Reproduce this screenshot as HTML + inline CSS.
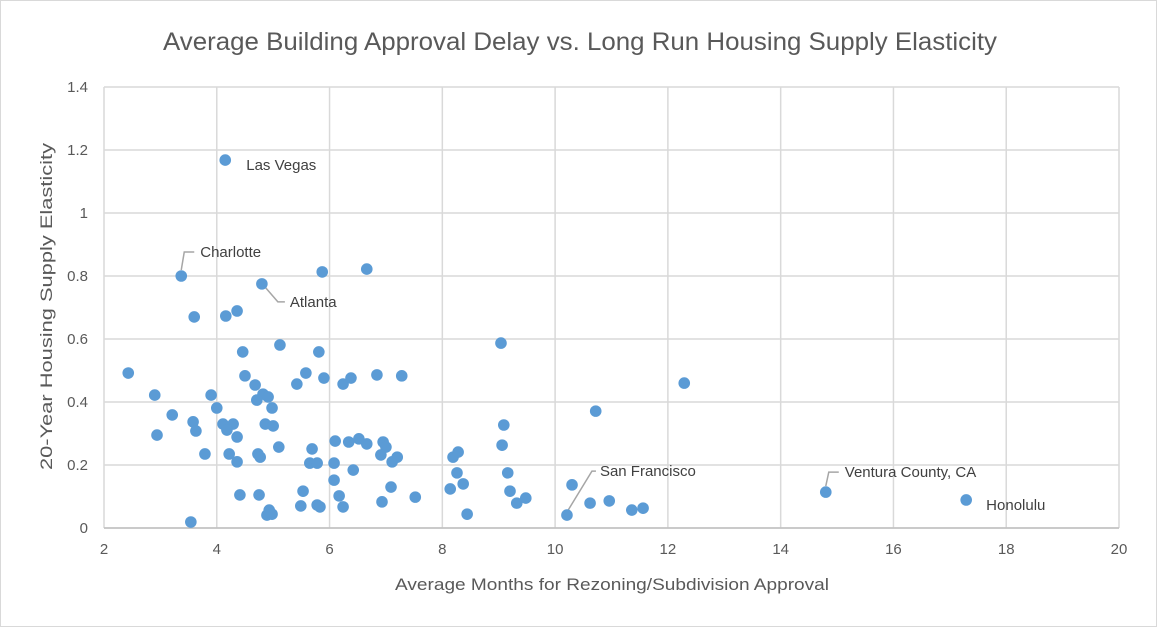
<!DOCTYPE html>
<html><head><meta charset="utf-8"><style>
body{margin:0;background:#fff}
svg{display:block;font-family:"Liberation Sans",sans-serif}
</style></head><body>
<svg id="chart" width="1157" height="627">
<rect x="0.5" y="0.5" width="1156" height="626" fill="#fff" stroke="#d9d9d9"/>
<text x="163" y="50" textLength="834" lengthAdjust="spacingAndGlyphs" font-size="25" fill="#595959">Average Building Approval Delay vs. Long Run Housing Supply Elasticity</text>
<g id="grid"></g><g id="ticks"></g><g id="labels"></g><g id="dots"></g>
<text x="395" y="590" textLength="434" lengthAdjust="spacingAndGlyphs" font-size="17" fill="#595959">Average Months for Rezoning/Subdivision Approval</text>
<text transform="translate(52,470) rotate(-90)" textLength="327" lengthAdjust="spacingAndGlyphs" font-size="17" fill="#595959">20-Year Housing Supply Elasticity</text>
</svg>
<script>
const xTicks=[2,4,6,8,10,12,14,16,18,20];
const yTicks=[0,0.2,0.4,0.6,0.8,1,1.2,1.4];
const yTickLabels=["0","0.2","0.4","0.6","0.8","1","1.2","1.4"];
const xs=[4.15,3.37,4.80,5.87,6.66,3.60,4.16,4.36,4.46,5.12,5.81,2.43,4.50,4.68,4.82,4.91,4.71,4.98,5.58,5.42,5.90,6.24,6.38,6.84,7.28,2.90,3.90,4.00,3.21,3.58,3.63,2.94,4.11,4.29,4.18,4.36,4.86,5.00,3.79,4.22,4.36,4.73,4.77,5.10,5.69,5.65,5.78,6.08,6.10,6.42,6.08,4.41,4.75,5.53,6.17,7.09,7.52,4.93,4.89,4.98,5.49,5.78,5.83,6.24,6.93,3.54,6.34,6.52,6.66,6.95,7.00,6.91,7.11,7.20,9.04,9.09,9.06,10.72,12.29,10.30,10.21,10.62,10.96,11.36,11.56,8.19,8.28,8.26,8.37,8.14,8.44,9.16,9.20,9.32,9.48,14.80,17.29];
const ys=[1.168,0.80,0.775,0.813,0.822,0.670,0.673,0.689,0.559,0.581,0.559,0.492,0.483,0.454,0.425,0.416,0.406,0.381,0.492,0.457,0.476,0.457,0.476,0.486,0.483,0.422,0.422,0.381,0.359,0.337,0.308,0.295,0.330,0.330,0.311,0.289,0.330,0.324,0.235,0.235,0.210,0.235,0.225,0.257,0.251,0.206,0.206,0.206,0.276,0.184,0.152,0.105,0.105,0.117,0.102,0.130,0.098,0.057,0.041,0.044,0.070,0.073,0.067,0.067,0.083,0.019,0.273,0.283,0.267,0.273,0.257,0.232,0.210,0.225,0.587,0.327,0.263,0.371,0.460,0.137,0.041,0.079,0.086,0.057,0.063,0.225,0.241,0.175,0.140,0.124,0.044,0.175,0.117,0.079,0.095,0.114,0.089];
const cityNames=["Las Vegas","Charlotte","Atlanta","San Francisco","Ventura County, CA","Honolulu"];
const cityX=[4.15,3.37,4.80,10.21,14.80,17.29];
const cityY=[1.168,0.80,0.775,0.041,0.114,0.089];
const X0=104,X1=1119,Y0=528,Y1=87;
const sx=v=>X0+(v-2)/18*(X1-X0);
const sy=v=>Y0-v/1.4*(Y0-Y1);
const NS="http://www.w3.org/2000/svg";
function mk(tag,attrs,parent){const e=document.createElementNS(NS,tag);for(const k in attrs)e.setAttribute(k,attrs[k]);document.getElementById(parent).appendChild(e);return e;}
xTicks.forEach((t,i)=>{
 const l=mk('line',{x1:sx(t),x2:sx(t),y1:Y1,y2:Y0,stroke:'#d9d9d9','stroke-width':1.5},'grid');
 
 
 const tx=mk('text',{x:sx(t),y:Y0+26,'text-anchor':'middle','font-size':15,fill:'#595959'},'ticks');
 tx.textContent=String(t);
 
 
});
yTicks.forEach((t,i)=>{
 const l=mk('line',{x1:X0,x2:X1,y1:sy(t),y2:sy(t),stroke:'#d9d9d9','stroke-width':1.5},'grid');
 
 
 const tx=mk('text',{x:X0-16,y:sy(t)+5,'text-anchor':'end','font-size':15,fill:'#595959'},'ticks');
 tx.textContent=yTickLabels[i];
 
 
});
const ax=mk('line',{x1:X0,x2:X1,y1:Y0,y2:Y0,stroke:'#bfbfbf','stroke-width':1.5},'grid');


xs.forEach((v,i)=>{
 const c=mk('circle',{cx:sx(v),cy:sy(ys[i]),r:5.8,fill:'#5b9bd5'},'dots');
 
 
});
const lblOff=[[21,5,null],[19,-24,'v-up'],[28,18,'diag-down'],[33,-44,'diag-up'],[19,-20,'v-up'],[20,5,null]];
cityNames.forEach((n,i)=>{
 const px=sx(cityX[i]),py=sy(cityY[i]);const o=lblOff[i];
 if(o[2]){
  let d;
  if(o[2]==='v-up')d=`M${px},${py-6} L${px+3},${py+o[1]} L${px+o[0]-6},${py+o[1]}`;
  else if(o[2]==='diag-down')d=`M${px+3},${py+3} L${px+16},${py+o[1]} L${px+o[0]-5},${py+o[1]}`;
  else d=`M${px},${py-3} L${px+25},${py+o[1]} L${px+o[0]-4},${py+o[1]}`;
  const p=mk('path',{d:d,fill:'none',stroke:'#a6a6a6','stroke-width':1.5},'labels');
  
  
 }
 const t=mk('text',{x:px+o[0],y:py+o[1]+5,'font-size':15,fill:'#404040'},'labels');
 t.textContent=n;
 
 
});
</script>
</body></html>
